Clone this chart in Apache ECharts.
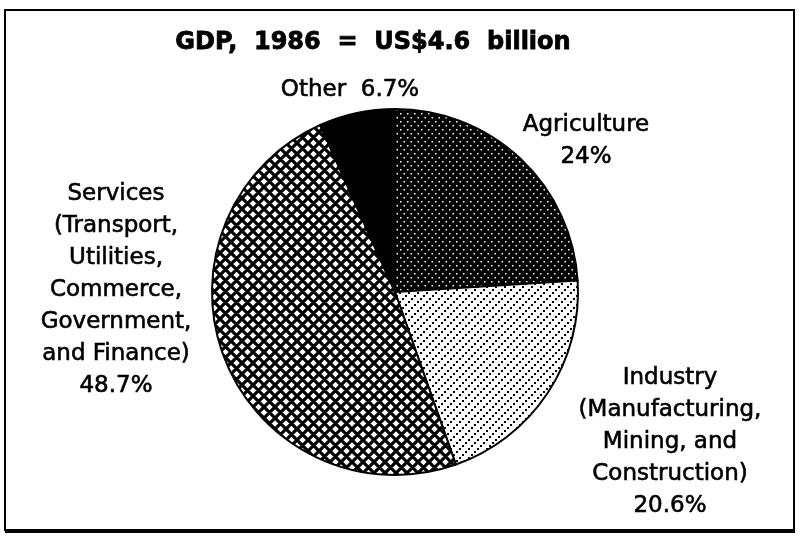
<!DOCTYPE html>
<html>
<head>
<meta charset="utf-8">
<script src="https://cdn.jsdelivr.net/npm/echarts@6/dist/echarts.min.js"></script>
<style>
html, body { margin: 0; padding: 0; background: #fff; }
#main { width: 800px; height: 539px; }
</style>
</head>
<body>
<div id="main"></div>
<script>
// data, clockwise from 12 o'clock
var categories = ['Agriculture', 'Industry', 'Services', 'Other'];
var shares = [24, 20.6, 48.7, 6.7];
var labelNames = [
	'Agriculture',
	'Industry\n(Manufacturing,\nMining, and\nConstruction)',
	'Services\n(Transport,\nUtilities,\nCommerce,\nGovernment,\nand Finance)',
	'Other'
];
var labelSeps = ['\n', '\n', '\n', '  '];
var titleText = 'GDP,  1986  =  US$4.6  billion';

// fill patterns, drawn on small canvases
function tile(w, h, draw) {
	var c = document.createElement('canvas');
	c.width = w;
	c.height = h;
	draw(c.getContext('2d'), w, h);
	return { image: c, repeat: 'repeat' };
}

var dotsOnBlack = tile(7, 8, function (g, w, h) {
	g.fillStyle = '#000';
	g.fillRect(0, 0, w, h);
	g.fillStyle = '#fff';
	g.fillRect(1, 1, 1.5, 1.5);
	g.fillRect(4.5, 5, 1.5, 1.5);
});

var dottedDiagonal = tile(9, 9, function (g, w, h) {
	g.fillStyle = '#fff';
	g.fillRect(0, 0, w, h);
	g.fillStyle = '#000';
	for (var i = 0; i < 3; i++) {
		g.fillRect(i * 3, h - 2 - i * 3, 2, 2);
	}
});

var crossHatch = tile(11, 11, function (g, s) {
	g.fillStyle = '#fff';
	g.fillRect(0, 0, s, s);
	g.strokeStyle = '#000';
	g.lineWidth = 3.2;
	g.beginPath();
	for (var k = -1; k <= 1; k++) {
		g.moveTo(k * s - 2, -2);
		g.lineTo(k * s + s + 2, s + 2);
		g.moveTo(k * s + s + 2, -2);
		g.lineTo(k * s - 2, s + 2);
	}
	g.stroke();
});

var fills = [dotsOnBlack, dottedDiagonal, crossHatch, '#000'];

// where each label sits (centre of the text block)
var labelSpots = [[586, 141], [670, 442], [116, 290], [350, 90]];

var myChart = echarts.init(document.getElementById('main'));

var pieData = [];
for (var i = 0; i < categories.length; i++) {
	pieData.push({
		name: categories[i],
		value: shares[i],
		itemStyle: { color: fills[i] }
	});
}

var option = {
	animation: false,
	title: {
		text: titleText,
		left: 368,
		top: 26,
		textAlign: 'center',
		textStyle: {
			fontFamily: 'DejaVu Sans',
			fontWeight: 'bold',
			fontSize: 24,
			color: '#000',
			textBorderColor: '#000',
			textBorderWidth: 0.8
		}
	},
	graphic: [
		{
			type: 'rect',
			shape: { x: 5, y: 10, width: 789, height: 520 },
			style: { fill: null, stroke: '#000', lineWidth: 2 },
			silent: true
		},
		{
			type: 'line',
			shape: { x1: 5, y1: 531, x2: 795, y2: 531 },
			style: { stroke: '#000', lineWidth: 4 },
			silent: true
		}
	],
	series: [{
		type: 'pie',
		center: [395, 292],
		radius: 183,
		startAngle: 90,
		clockwise: true,
		silent: true,
		data: pieData,
		itemStyle: {
			borderColor: '#000',
			borderWidth: 2
		},
		label: {
			show: true,
			position: 'outside',
			fontFamily: 'DejaVu Sans',
			fontSize: 23,
			lineHeight: 32,
			color: '#000',
			textBorderColor: '#000',
			textBorderWidth: 0.6,
			align: 'center',
			formatter: function (p) {
				return labelNames[p.dataIndex] + labelSeps[p.dataIndex] + p.value + '%';
			}
		},
		labelLine: { show: false },
		labelLayout: function (p) {
			var spot = labelSpots[p.dataIndex];
			return { x: spot[0], y: spot[1], align: 'center', verticalAlign: 'middle' };
		},
		emphasis: { disabled: true }
	}]
};

myChart.setOption(option);
</script>
</body>
</html>
